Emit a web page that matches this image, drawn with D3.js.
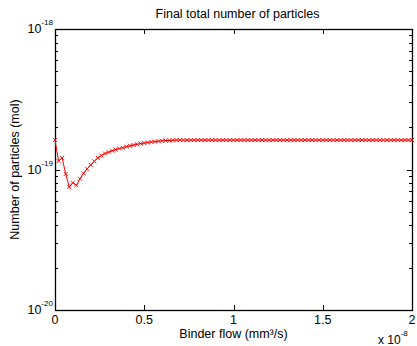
<!DOCTYPE html>
<html>
<head>
<meta charset="utf-8">
<script src="https://cdn.jsdelivr.net/npm/d3@7"></script>
<style>
  body { margin: 0; background: #fff; }
  svg text { font-family: "Liberation Sans", Arial, Helvetica, sans-serif; fill: #000; }
</style>
</head>
<body>
<div id="chart"></div>
<script>
// binder flow samples: 0 .. 2e-8 mm3/s, 101 points
var xStart = 0, xEnd = 2e-8, nPoints = 101;
// number of particles (mantissa, x 1e-19 mol)
var particles = [
  1.62, 1.15, 1.21, 0.93, 0.75, 0.805, 0.772, 0.86, 0.94, 1.01,
  1.077, 1.143, 1.21, 1.257, 1.30, 1.33, 1.36, 1.386, 1.41, 1.43,
  1.455, 1.475, 1.494, 1.511, 1.53, 1.543, 1.558, 1.57, 1.58, 1.59,
  1.60, 1.607, 1.61, 1.615, 1.618, 1.62, 1.62, 1.62, 1.62, 1.62,
  1.62, 1.62, 1.62, 1.62, 1.62, 1.62, 1.62, 1.62, 1.62, 1.62,
  1.62, 1.62, 1.62, 1.62, 1.62, 1.62, 1.62, 1.62, 1.62, 1.62,
  1.62, 1.62, 1.62, 1.62, 1.62, 1.62, 1.62, 1.62, 1.62, 1.62,
  1.62, 1.62, 1.62, 1.62, 1.62, 1.62, 1.62, 1.62, 1.62, 1.62,
  1.62, 1.62, 1.62, 1.62, 1.62, 1.62, 1.62, 1.62, 1.62, 1.62,
  1.62, 1.62, 1.62, 1.62, 1.62, 1.62, 1.62, 1.62, 1.62, 1.62,
  1.62
];
var particleUnit = 1e-19;
var xTicks = [0, 0.5e-8, 1e-8, 1.5e-8, 2e-8];
var xTickLabels = ["0", "0.5", "1", "1.5", "2"];
var yTicks = [1e-20, 1e-19, 1e-18];
var yTickExps = ["-20", "-19", "-18"];

var W = 417, H = 346;
var margin = { top: 29, right: 5, bottom: 36, left: 55 };
var width = W - margin.left - margin.right,
    height = H - margin.top - margin.bottom;

var data = particles.map(function (v, i) {
  return { x: xStart + i * (xEnd - xStart) / (nPoints - 1), y: v * particleUnit };
});

var x = d3.scaleLinear().domain([xStart, xEnd]).range([0, width]);
var y = d3.scaleLog().domain([1e-20, 1e-18]).range([height, 0]);

var svg = d3.select("#chart").append("svg")
  .attr("width", W).attr("height", H);

var g = svg.append("g")
  .attr("transform", "translate(" + margin.left + "," + margin.top + ")");

// minor log ticks
var minor = [];
[1e-20, 1e-19].forEach(function (d) {
  for (var k = 2; k <= 9; k++) minor.push(d * k);
});

var ticks = g.append("g").attr("stroke", "#000").attr("stroke-width", 1);
minor.forEach(function (v) {
  var yy = Math.round(y(v)) + 0.5;
  ticks.append("line").attr("x1", 0).attr("x2", 3).attr("y1", yy).attr("y2", yy);
  ticks.append("line").attr("x1", width - 3).attr("x2", width).attr("y1", yy).attr("y2", yy);
});
yTicks.forEach(function (v) {
  var yy = Math.round(y(v)) + 0.5;
  ticks.append("line").attr("x1", 0).attr("x2", 5).attr("y1", yy).attr("y2", yy);
  ticks.append("line").attr("x1", width - 5).attr("x2", width).attr("y1", yy).attr("y2", yy);
});
xTicks.forEach(function (v) {
  var xx = Math.round(x(v)) + 0.5;
  ticks.append("line").attr("x1", xx).attr("x2", xx).attr("y1", height).attr("y2", height - 5);
  ticks.append("line").attr("x1", xx).attr("x2", xx).attr("y1", 0).attr("y2", 5);
});

// frame
g.append("rect")
  .attr("x", 0.5).attr("y", 0.5)
  .attr("width", width).attr("height", height)
  .attr("fill", "none").attr("stroke", "#000").attr("stroke-width", 1.3);

// x tick labels
g.selectAll(".xlab").data(xTicks).enter().append("text")
  .attr("x", function (d) { return x(d); })
  .attr("y", height + 14)
  .attr("text-anchor", "middle")
  .style("font-size", "12.5px")
  .text(function (d, i) { return xTickLabels[i]; });

// y tick labels 10^n
yTicks.forEach(function (v, i) {
  var t = g.append("text")
    .attr("x", -2)
    .attr("y", y(v) + 4)
    .attr("text-anchor", "end")
    .style("font-size", "12.5px");
  t.append("tspan").text("10");
  t.append("tspan").attr("dy", -8).style("font-size", "8px").text(yTickExps[i]);
});

// line + markers
var line = d3.line()
  .x(function (d) { return x(d.x); })
  .y(function (d) { return y(d.y); });

g.append("path")
  .datum(data)
  .attr("fill", "none")
  .attr("stroke", "#ff0000")
  .attr("stroke-width", 1)
  .attr("d", line);

var s = 2;
g.selectAll(".mk").data(data).enter().append("path")
  .attr("fill", "none")
  .attr("stroke", "#ff0000")
  .attr("stroke-width", 0.9)
  .attr("d", function (d) {
    var px = x(d.x), py = y(d.y);
    return "M" + (px - s) + "," + (py - s) + "L" + (px + s) + "," + (py + s) +
           "M" + (px - s) + "," + (py + s) + "L" + (px + s) + "," + (py - s);
  });

// title and axis labels
svg.append("text")
  .attr("x", margin.left + width / 2 + 4)
  .attr("y", 18)
  .attr("text-anchor", "middle")
  .style("font-size", "12.5px")
  .text("Final total number of particles");

svg.append("text")
  .attr("x", margin.left + width / 2)
  .attr("y", 338)
  .attr("text-anchor", "middle")
  .style("font-size", "12.5px")
  .text("Binder flow (mm³/s)");

svg.append("text")
  .attr("transform", "translate(19," + (margin.top + height / 2) + ") rotate(-90)")
  .attr("text-anchor", "middle")
  .style("font-size", "12.5px")
  .text("Number of particles (mol)");

var ex = svg.append("text")
  .attr("x", 378)
  .attr("y", 344)
  .style("font-size", "12px");
ex.append("tspan").text("x 10");
ex.append("tspan").attr("dy", -8).style("font-size", "8px").text("-8");
</script>
</body>
</html>
